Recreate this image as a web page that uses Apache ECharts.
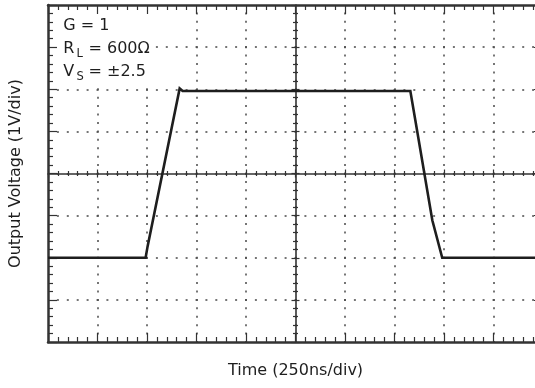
<!DOCTYPE html>
<html>
<head>
<meta charset="utf-8">
<script src="https://cdn.jsdelivr.net/npm/echarts@6/dist/echarts.min.js"></script>
<style>
  html, body { margin: 0; padding: 0; background: #fff; }
  #chart { width: 535px; height: 388px; }
</style>
</head>
<body>
<div id="chart"></div>
<script>
// Step response of the amplifier (time in ns, output in volts)
const timeNs  = [0, 493, 503, 665, 680, 1830, 1855, 1941, 1991, 2500];
const voltage = [-2.0, -2.0, -1.73, 2.02, 1.96, 1.96, 1.27, -1.11, -2.0, -2.0];

// Scope graticule: 10 x 8 divisions
const timeMin = 0, timeMax = 2500, timeDiv = 250;
const voltMin = -4, voltMax = 4, voltDiv = 1;

const xTitle = 'Time (250ns/div)';
const yTitle = 'Output Voltage (1V/div)';

// Test condition notes: [main text, subscript, rest]
const noteRows = [
  ['G = 1', '', ''],
  ['R', 'L', '= 600Ω'],
  ['V', 'S', '= ±2.5']
];

const FONT = '"DejaVu Sans", Verdana, sans-serif';
const INK = '#333';
const TEXT = '#1e1e1e';

const W = 495, H = 337, L = 48, T = 5;

function xScale(extra) {
  return Object.assign({
    type: 'value', min: timeMin, max: timeMax, interval: timeDiv,
    axisLabel: { show: false }, splitLine: { show: false }
  }, extra);
}
function yScale(extra) {
  return Object.assign({
    type: 'value', min: voltMin, max: voltMax, interval: voltDiv,
    axisLabel: { show: false }, splitLine: { show: false }
  }, extra);
}
function edge(inside, major, minor, lineWidth) {
  return {
    axisLine: { show: lineWidth > 0, onZero: false, lineStyle: { color: INK, width: lineWidth || 1 } },
    axisTick: { show: true, inside: inside, length: major, lineStyle: { color: INK, width: 1.2 } },
    minorTick: { show: true, splitNumber: 5, length: minor, lineStyle: { color: INK, width: 1.2 } },
    z: 5
  };
}
const hidden = { show: false };

const chart = echarts.init(document.getElementById('chart'), null, { renderer: 'canvas' });

const dotStyle = (along) => ({
  show: true, showMinLine: false, showMaxLine: false,
  lineStyle: { color: '#4a4a4a', width: 1.5, type: [2, along - 2], dashOffset: 1 }
});

const noteGraphics = [{
  type: 'rect', z: 1, silent: true,
  shape: { x: 49.5, y: 6.5, width: 105, height: 80 },
  style: { fill: '#fff' }
}];
noteRows.forEach((row, i) => {
  const base = 31.7 + i * 23;
  const midY = base - 5.5;
  noteGraphics.push({ type: 'text', z: 3, x: 63.3, y: midY,
    style: { text: row[0], font: '16px ' + FONT, fill: TEXT, verticalAlign: 'middle' } });
  if (row[1]) {
    noteGraphics.push({ type: 'text', z: 3, x: 76.5, y: base + 3.3 - 4,
      style: { text: row[1], font: '11.5px ' + FONT, fill: TEXT, verticalAlign: 'middle' } });
    noteGraphics.push({ type: 'text', z: 3, x: 88.5, y: midY,
      style: { text: row[2], font: '16px ' + FONT, fill: TEXT, verticalAlign: 'middle' } });
  }
});

const gridBox = (w, h) => ({ left: L, top: T, width: w, height: h, outerBoundsMode: 'none', containLabel: false });

chart.setOption({
  animation: false,
  backgroundColor: '#fff',
  textStyle: { fontFamily: FONT },
  grid: [
    gridBox(W, H),        // frame + trace
    gridBox(W, H / 2),    // horizontal centre line
    gridBox(W / 2, H),    // vertical centre line
    gridBox(W, H)         // dotted graticule
  ],
  xAxis: [
    xScale(Object.assign({ gridIndex: 0, position: 'bottom',
      name: xTitle, nameLocation: 'middle', nameGap: 21,
      nameTextStyle: { fontSize: 16, color: TEXT, fontFamily: FONT } }, edge(true, 9, 5, 2.5))),
    xScale(Object.assign({ gridIndex: 0, position: 'top' }, edge(true, 9, 5, 2.5))),
    xScale(Object.assign({ gridIndex: 1, position: 'bottom' }, edge(true, 4, 2.5, 1.6))),
    xScale(Object.assign({ gridIndex: 1, position: 'bottom' }, edge(false, 4, 2.5, 0))),
    xScale({ gridIndex: 2, show: false }),
    xScale({ gridIndex: 3, axisLine: hidden, axisTick: hidden, z: 0, splitLine: dotStyle(H / 8 / 5) })
  ],
  yAxis: [
    yScale(Object.assign({ gridIndex: 0, position: 'left',
      name: yTitle, nameLocation: 'middle', nameGap: 24,
      nameTextStyle: { fontSize: 16, color: TEXT, fontFamily: FONT } }, edge(true, 9, 5, 2.5))),
    yScale(Object.assign({ gridIndex: 0, position: 'right' }, edge(true, 9, 5, 2.5))),
    { type: 'value', gridIndex: 1, min: 0, max: 1, show: false },
    yScale(Object.assign({ gridIndex: 2, position: 'right' }, edge(true, 4, 2.5, 1.6))),
    yScale(Object.assign({ gridIndex: 2, position: 'right' }, edge(false, 4, 2.5, 0))),
    yScale({ gridIndex: 3, axisLine: hidden, axisTick: hidden, z: 0, splitLine: dotStyle(W / 10 / 5) })
  ],
  graphic: noteGraphics,
  series: [{
    type: 'line',
    xAxisIndex: 0, yAxisIndex: 0,
    data: timeNs.map((t, i) => [t, voltage[i]]),
    symbol: 'none',
    lineStyle: { color: '#1e1e1e', width: 2.6, join: 'miter' },
    z: 6
  }]
});
</script>
</body>
</html>
